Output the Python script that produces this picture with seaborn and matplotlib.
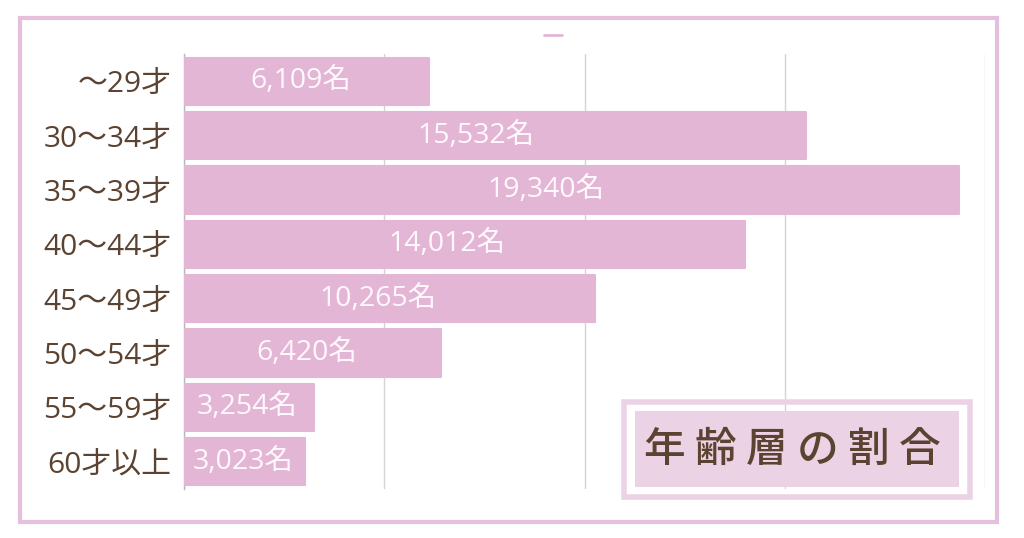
import matplotlib
matplotlib.use("Agg")
import matplotlib.pyplot as plt
import seaborn as sns
import pandas as pd
from matplotlib.patches import Rectangle
from matplotlib.lines import Line2D

# data
age_groups = ["～29才", "30～34才", "35～39才", "40～44才",
              "45～49才", "50～54才", "55～59才", "60才以上"]
counts = [6109, 15532, 19340, 14012, 10265, 6420, 3254, 3023]
x_ticks = [0, 5000, 10000, 15000, 20000]
title_text = "年齢層の割合"

bar_color = "#e4b6d6"
brown = "#5c4331"
frame_pink = "#e6bfdc"
box_fill = "#ebd3e5"

sns.set_theme(style="white")
plt.rcParams['font.family'] = ['Open Sans', 'Noto Sans CJK JP', 'DejaVu Sans']

df = pd.DataFrame({"age": age_groups, "count": counts})

fig = plt.figure(figsize=(10.24, 5.38), dpi=100)
ax = fig.add_axes([184 / 1024, 1 - 489 / 538, 801 / 1024, 435 / 538])

sns.barplot(data=df, y="age", x="count", orient="h", color=bar_color,
            saturation=1, width=0.87, ax=ax, zorder=3)

for p in ax.patches:
    p.set_edgecolor(bar_color)
    p.set_linewidth(1.5)
    p.set_joinstyle("round")

# value labels sit a little left of the bar middle, like the original
for i, v in enumerate(counts):
    ax.text(v * 0.4635 + 80, i, f"{v:,}名", ha="center", va="center",
            color="#fff8fc", fontsize=20.5, zorder=4)

ax.set_xlim(0, 20000)
ax.set_ylim(7.5, -0.5)
ax.set_xticks(x_ticks)
ax.set_xticklabels([])
ax.tick_params(axis="x", length=0)
ax.tick_params(axis="y", length=0, labelsize=21.5, labelcolor=brown, pad=9)
ax.set_xlabel("")
ax.set_ylabel("")
ax.grid(axis="x", color="#d4d4d4", linewidth=1, zorder=0)
ax.set_axisbelow(True)
for s in ["top", "right", "bottom"]:
    ax.spines[s].set_visible(False)
ax.spines["left"].set_color("#b8b8b8")
ax.spines["left"].set_linewidth(1)

# outer pink frame
fig.patches.append(Rectangle((20 / 1024, 1 - 522 / 538), 977 / 1024, 504 / 538,
                             transform=fig.transFigure, fill=False,
                             edgecolor=frame_pink, linewidth=3))

# tiny empty legend marker at the top
fig.legend(handles=[Line2D([], [], color=bar_color, linewidth=2)], labels=[""],
           loc="center", bbox_to_anchor=(553 / 1024, 1 - 37 / 538),
           frameon=False, handlelength=1.2, handletextpad=0)

# title box in lower right
fig.patches.append(Rectangle((624 / 1024, 1 - 497 / 538), 346 / 1024, 95 / 538,
                             transform=fig.transFigure, fill=False,
                             edgecolor=box_fill, linewidth=4, zorder=5))
fig.patches.append(Rectangle((635 / 1024, 1 - 487 / 538), 324 / 1024, 76 / 538,
                             transform=fig.transFigure, facecolor=box_fill,
                             edgecolor="none", zorder=5))
fig.text(792 / 1024, 1 - 449 / 538, " ".join(title_text), ha="center", va="center",
         fontsize=30, color=brown, fontfamily="Noto Sans CJK JP",
         fontweight="medium", zorder=6)

fig.savefig("out.png", dpi=100)
